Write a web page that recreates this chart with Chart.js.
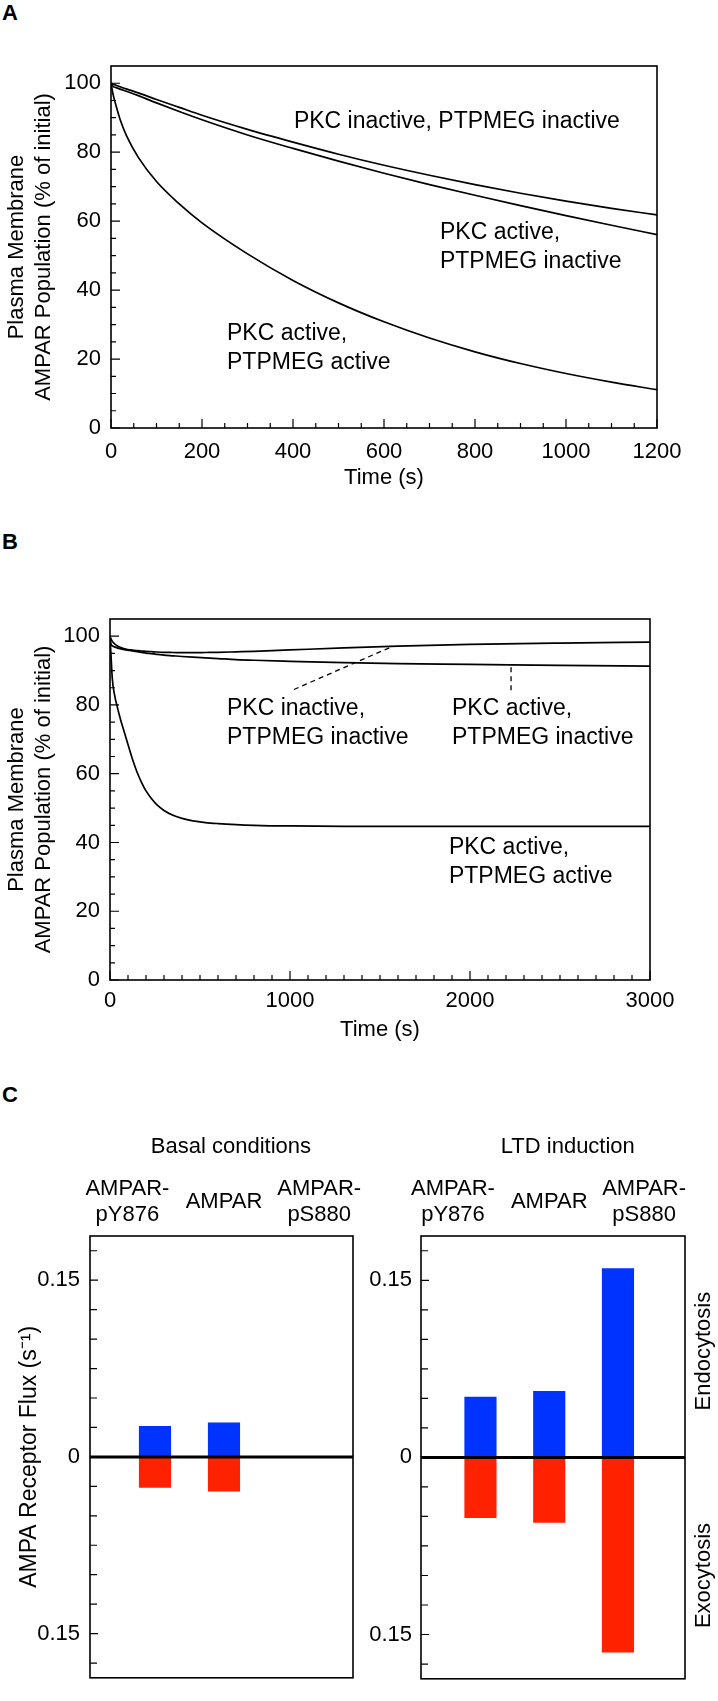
<!DOCTYPE html>
<html>
<head>
<meta charset="utf-8">
<script src="https://cdn.jsdelivr.net/npm/chart.js@4.4.1/dist/chart.umd.min.js"></script>
<style>
  body { margin: 0; background: #fff; }
  #page { position: relative; width: 718px; height: 1701px; overflow: hidden; font-family: 'Liberation Sans', Arial, sans-serif; }
  canvas { position: absolute; }
  .panel { position: absolute; left: 2px; font-weight: bold; font-size: 22px; line-height: 22px; }
</style>
</head>
<body>
<div id="page">
  <div class="panel" style="top:2px">A</div>
  <div class="panel" style="top:531px">B</div>
  <div class="panel" style="top:1084px">C</div>
  <canvas id="chartA" width="718" height="500" style="left:0;top:0"></canvas>
  <canvas id="chartB" width="718" height="560" style="left:0;top:500px"></canvas>
  <canvas id="chartBasal" width="380" height="601" style="left:0;top:1100px"></canvas>
  <canvas id="chartLtd" width="378" height="601" style="left:340px;top:1100px"></canvas>
</div>
<script>
// panel A, 0-1200 s
const timeA = [0, 5, 10, 20, 35, 60, 100, 150, 200, 300, 400, 500, 600, 700, 800, 900, 1000, 1100, 1200];
const aBothInactive = [100, 99.7, 99.5, 99.0, 98.3, 97.2, 95.3, 93.0, 90.7, 86.6, 82.9, 79.4, 76.2, 73.3, 70.6, 68.1, 65.8, 63.7, 61.8];
const aPkcActive = [100, 99.0, 98.8, 98.3, 97.6, 96.4, 94.3, 91.8, 89.4, 85.0, 81.1, 77.4, 73.9, 70.6, 67.5, 64.5, 61.6, 58.8, 56.1];
const aBothActive = [100, 96.5, 94, 89.5, 84.5, 78.5, 71.5, 65, 59.5, 50.5, 42.8, 36.3, 30.8, 26.1, 22.1, 18.7, 15.8, 13.3, 11.1];

// panel B, 0-3000 s
const timeB = [0, 5, 13, 25, 40, 60, 80, 100, 125, 150, 175, 200, 230, 260, 300, 350, 400, 460, 530, 600, 700, 800, 1000, 1300, 1600, 2000, 2500, 3000];
const bBothInactive = [100, 99.3, 98.5, 97.8, 97.2, 96.7, 96.3, 96.1, 95.95, 95.8, 95.7, 95.6, 95.5, 95.4, 95.3, 95.25, 95.2, 95.2, 95.25, 95.3, 95.45, 95.6, 96.0, 96.6, 97.1, 97.6, 98.0, 98.3];
const bPkcActive = [100, 97.8, 97.2, 96.9, 96.6, 96.3, 96.1, 95.9, 95.7, 95.5, 95.3, 95.1, 94.9, 94.7, 94.5, 94.3, 94.1, 93.9, 93.7, 93.5, 93.2, 93.0, 92.7, 92.3, 92.0, 91.8, 91.5, 91.3];
const bBothActive = [100, 95, 87.5, 83, 79.5, 75.5, 72, 68.5, 64.2, 60.5, 57.5, 55, 52.8, 51, 49.3, 47.9, 47.0, 46.3, 45.8, 45.5, 45.2, 45.0, 44.8, 44.7, 44.7, 44.7, 44.7, 44.7];

// panel C, receptor fluxes (s-1)
const species = ['AMPAR-pY876', 'AMPAR', 'AMPAR-pS880'];
const basalEndo = [0.026, 0.029, 0];
const basalExo = [-0.026, -0.029, 0];
const ltdEndo = [0.051, 0.056, 0.160];
const ltdExo = [-0.051, -0.055, -0.165];

const timeTicksA = [0, 200, 400, 600, 800, 1000, 1200];
const timeTicksB = [0, 1000, 2000, 3000];
const popTicks = [0, 20, 40, 60, 80, 100];
const fluxTicks = [-0.15, 0, 0.15];

const BLUE = '#0033ff';
const RED = '#ff2200';
const FONT = "'Liberation Sans', Arial, sans-serif";

Chart.defaults.font.family = FONT;
Chart.defaults.font.size = 22;
Chart.defaults.color = '#000';
Chart.defaults.animation = false;

// box around the plot area + inward tick marks
const frame = {
  id: 'frame',
  afterDatasetsDraw(chart, args, o) {
    const { ctx, chartArea: a, scales } = chart;
    ctx.save();
    ctx.strokeStyle = '#000';
    (o.marks || []).forEach(m => {
      const s = scales[m.axis];
      const n = Math.round((m.to - m.from) / m.step);
      ctx.lineWidth = 1.2;
      ctx.beginPath();
      for (let i = 0; i <= n; i++) {
        const v = m.from + i * m.step;
        const big = m.major.some(t => Math.abs(t - v) < 1e-9);
        const len = big ? m.big : m.small;
        const p = s.getPixelForValue(v);
        if (m.axis === 'x') { ctx.moveTo(p, a.bottom); ctx.lineTo(p, a.bottom - len); }
        else { ctx.moveTo(a.left, p); ctx.lineTo(a.left + len, p); }
      }
      ctx.stroke();
    });
    if (o.zeroLine) {
      const y0 = scales.y.getPixelForValue(0);
      ctx.lineWidth = 3;
      ctx.beginPath();
      ctx.moveTo(a.left, y0);
      ctx.lineTo(a.right, y0);
      ctx.stroke();
    }
    ctx.lineWidth = 1.6;
    ctx.strokeRect(a.left, a.top, a.right - a.left, a.bottom - a.top);
    ctx.restore();
  }
};

// text labels and dashed leaders
const notes = {
  id: 'notes',
  afterDraw(chart, args, o) {
    const { ctx, scales } = chart;
    ctx.save();
    ctx.strokeStyle = '#000';
    ctx.fillStyle = '#000';
    (o.leaders || []).forEach(l => {
      ctx.setLineDash([5, 4]);
      ctx.lineWidth = 1.3;
      ctx.beginPath();
      ctx.moveTo(scales.x.getPixelForValue(l[0]), scales.y.getPixelForValue(l[1]));
      ctx.lineTo(scales.x.getPixelForValue(l[2]), scales.y.getPixelForValue(l[3]));
      ctx.stroke();
    });
    ctx.setLineDash([]);
    (o.items || []).forEach(it => {
      const x = it.x !== undefined ? scales.x.getPixelForValue(it.x) : it.px;
      const y = it.y !== undefined ? scales.y.getPixelForValue(it.y) : it.py;
      ctx.font = (it.size || 22) + 'px ' + FONT;
      ctx.textAlign = it.align || 'left';
      ctx.textBaseline = 'middle';
      ctx.save();
      ctx.translate(x, y);
      if (it.rotate) ctx.rotate(it.rotate);
      it.lines.forEach((t, i) => ctx.fillText(t, 0, i * (it.gap || 29)));
      ctx.restore();
    });
    ctx.restore();
  }
};

function curve(times, values, label) {
  return {
    label,
    data: times.map((t, i) => ({ x: t, y: values[i] })),
    borderColor: '#000',
    borderWidth: 1.7,
    pointRadius: 0,
    cubicInterpolationMode: 'monotone',
    fill: false
  };
}

function populationChart(id, opts) {
  return new Chart(document.getElementById(id), {
    type: 'line',
    data: { datasets: opts.datasets },
    options: {
      responsive: false,
      layout: { padding: opts.padding },
      plugins: {
        legend: { display: false },
        tooltip: { enabled: false },
        frame: {
          marks: [
            { axis: 'x', from: 0, to: opts.xMax, step: opts.xMinor, major: opts.xTicks, big: 9, small: 5 },
            { axis: 'y', from: 0, to: 100, step: 5, major: popTicks, big: 9, small: 5 }
          ]
        },
        notes: { items: opts.items, leaders: opts.leaders || [] }
      },
      scales: {
        x: {
          type: 'linear', min: 0, max: opts.xMax,
          afterBuildTicks: s => { s.ticks = opts.xTicks.map(v => ({ value: v })); },
          afterFit: s => { s.height = opts.xHeight; },
          grid: { display: false, drawTicks: false }, border: { display: false },
          ticks: { padding: opts.xPad, autoSkip: false, maxRotation: 0, callback: v => String(v) },
          title: { display: true, text: 'Time (s)', padding: { top: 0, bottom: opts.titlePad } }
        },
        y: {
          min: 0, max: 105,
          afterBuildTicks: s => { s.ticks = popTicks.map(v => ({ value: v })); },
          afterFit: s => { s.width = opts.yWidth; },
          grid: { display: false, drawTicks: false }, border: { display: false },
          ticks: { padding: 10, callback: v => String(v) },
          title: {
            display: true,
            text: ['Plasma Membrane', 'AMPAR Population (% of initial)'],
            font: { size: 22, lineHeight: 1.25 },
            padding: { top: 3, bottom: 0 }
          }
        }
      }
    },
    plugins: [frame, notes]
  });
}

populationChart('chartA', {
  datasets: [
    curve(timeA, aBothInactive, 'PKC inactive, PTPMEG inactive'),
    curve(timeA, aPkcActive, 'PKC active, PTPMEG inactive'),
    curve(timeA, aBothActive, 'PKC active, PTPMEG active')
  ],
  padding: { top: 66, right: 61, bottom: 0, left: 0 },
  xMax: 1200, xMinor: 50, xTicks: timeTicksA,
  xHeight: 72, xPad: 11, titlePad: 9, yWidth: 111,
  items: [
    { x: 402, y: 89, size: 23, lines: ['PKC inactive, PTPMEG inactive'] },
    { x: 723, y: 56.8, size: 23, lines: ['PKC active,', 'PTPMEG inactive'] },
    { x: 255, y: 27.5, size: 23, lines: ['PKC active,', 'PTPMEG active'] }
  ]
});

populationChart('chartB', {
  datasets: [
    curve(timeB, bBothInactive, 'PKC inactive, PTPMEG inactive'),
    curve(timeB, bPkcActive, 'PKC active, PTPMEG inactive'),
    curve(timeB, bBothActive, 'PKC active, PTPMEG active')
  ],
  padding: { top: 119, right: 68, bottom: 0, left: 0 },
  xMax: 3000, xMinor: 100, xTicks: timeTicksB,
  xHeight: 80, xPad: 8, titlePad: 17, yWidth: 110,
  items: [
    { x: 650, y: 79, size: 23, lines: ['PKC inactive,', 'PTPMEG inactive'] },
    { x: 1900, y: 79, size: 23, lines: ['PKC active,', 'PTPMEG inactive'] },
    { x: 1883, y: 38.5, size: 23, lines: ['PKC active,', 'PTPMEG active'] }
  ],
  leaders: [[1022, 84.5, 1572, 97.1], [2228, 91, 2228, 83.7]]
});

function fluxChart(id, opts) {
  const labelSlots = [0.6, 2, 3.38];
  const items = [{ x: opts.headX, py: 47, align: 'center', lines: [opts.heading] }];
  species.forEach((name, i) => {
    const cut = name.indexOf('-');
    const lines = cut > 0 ? [name.slice(0, cut + 1), name.slice(cut + 1)] : [name];
    items.push({ x: labelSlots[i], py: lines.length > 1 ? 89 : 102, align: 'center', gap: 26, lines });
  });
  (opts.side || []).forEach(s => items.push(s));
  const bar = (vals, label, color) => ({
    label,
    data: vals.map((v, i) => ({ x: i + 1, y: v })),
    backgroundColor: color,
    borderWidth: 0,
    grouped: false,
    barThickness: 31.5
  });
  return new Chart(document.getElementById(id), {
    type: 'bar',
    data: { datasets: [bar(opts.endo, 'Endocytosis', BLUE), bar(opts.exo, 'Exocytosis', RED)] },
    options: {
      responsive: false,
      layout: { padding: opts.padding },
      plugins: {
        legend: { display: false },
        tooltip: { enabled: false },
        frame: {
          marks: [{ axis: 'y', from: -0.175, to: 0.175, step: 0.025, major: fluxTicks, big: 8, small: 7 }],
          zeroLine: true
        },
        notes: { items }
      },
      scales: {
        x: { type: 'linear', display: false, offset: false, min: opts.xMin, max: opts.xMax },
        y: {
          min: -0.1875, max: 0.1875,
          afterBuildTicks: s => { s.ticks = fluxTicks.map(v => ({ value: v })); },
          afterFit: s => { s.width = opts.yWidth; },
          grid: { display: false, drawTicks: false }, border: { display: false },
          ticks: { padding: opts.yPad, callback: v => (v === 0 ? '0' : Math.abs(v).toFixed(2)) },
          title: {
            display: !!opts.yTitle,
            text: opts.yTitle || '',
            font: { size: 23 },
            padding: { top: 16, bottom: 0 }
          }
        }
      }
    },
    plugins: [frame, notes]
  });
}

fluxChart('chartBasal', {
  heading: 'Basal conditions', headX: 2.1,
  endo: basalEndo, exo: basalExo,
  padding: { top: 136, right: 27, bottom: 2, left: 0 },
  xMin: 0.058, xMax: 3.87, yWidth: 90, yPad: 10,
  yTitle: 'AMPA Receptor Flux (s\u207B\u00B9)'
});

fluxChart('chartLtd', {
  heading: 'LTD induction', headX: 2.27,
  endo: ltdEndo, exo: ltdExo,
  padding: { top: 136, right: 33, bottom: 2, left: 0 },
  xMin: 0.135, xMax: 3.975, yWidth: 81, yPad: 9,
  side: [
    { px: 364, y: 0.09, align: 'center', rotate: -Math.PI / 2, lines: ['Endocytosis'] },
    { px: 364, y: -0.1, align: 'center', rotate: -Math.PI / 2, lines: ['Exocytosis'] }
  ]
});
</script>
</body>
</html>
